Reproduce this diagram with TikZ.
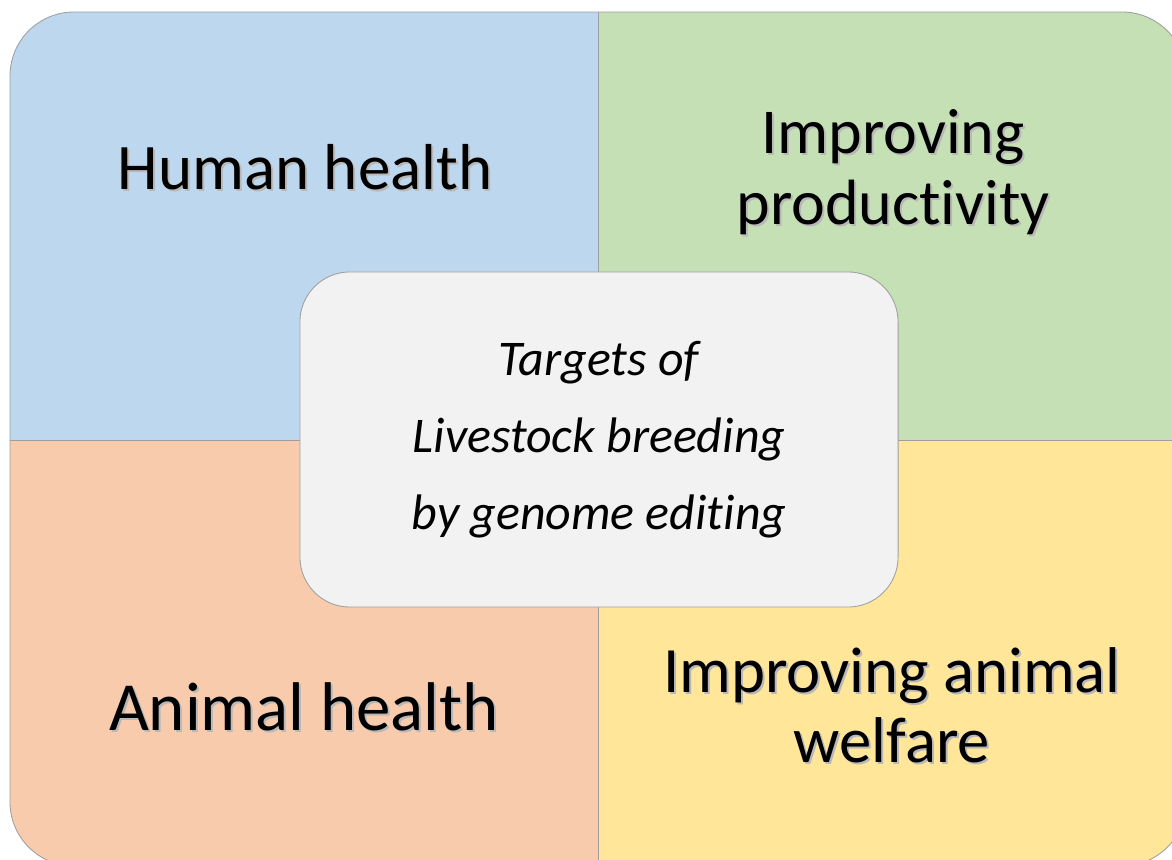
\documentclass[tikz,border=0pt]{standalone}
\usepackage{fontspec}
\setmainfont{Carlito}[Ligatures=NoCommon]

\definecolor{humanblue}{HTML}{BDD7EE}
\definecolor{prodgreen}{HTML}{C5E0B4}
\definecolor{animalpeach}{HTML}{F8CBAD}
\definecolor{welfareyellow}{HTML}{FFE699}
\definecolor{coregray}{HTML}{F2F2F2}

\tikzset{
  quadline/.style={draw=black!38, line width=0.6pt},
  lbl/.style={anchor=base, align=center, inner sep=0pt},
  lblshadow/.style={lbl, text=black!28},
  target/.style={draw=black!38, line width=0.6pt, fill=coregray, rounded corners=1.25cm,
    minimum width=14.95cm, minimum height=8.375cm, align=center, inner sep=0pt,
    font={\fontsize{35.5}{54.8}\selectfont\itshape}}
}

% label with a soft drop shadow: name, position (last baseline), font, text
\newcommand{\shadowlabel}[4]{%
  \node[lblshadow, font={#3}] (#1-sh) at ([shift={(2,2)}]#2) {#4};
  \node[lbl, font={#3}] (#1) at (#2) {#4};
}

\begin{document}
\begin{tikzpicture}[x=0.025cm, y=-0.025cm]
\useasboundingbox (0,0) rectangle (1172,860);
\clip (0,0) rectangle (1172,860);

% four quadrants inside one rounded frame
\begin{scope}
\clip[rounded corners=1.6cm] (10,12) rectangle (1186,866);
\fill[humanblue]     (10,12)   rectangle (598,440);
\fill[prodgreen]     (598,12)  rectangle (1186,440);
\fill[animalpeach]   (10,440)  rectangle (598,866);
\fill[welfareyellow] (598,440) rectangle (1186,866);
\end{scope}
\draw[quadline] (598,12) -- (598,866);
\draw[quadline] (10,440) -- (1186,440);
\draw[quadline, rounded corners=1.6cm] (10,12) rectangle (1186,866);

\node[target] (core) at (599,439.5) {Targets of\\Livestock breeding\\by genome editing};

\shadowlabel{human}{305,190}{\fontsize{46.2}{50}\selectfont}{Human health}
\shadowlabel{prod}{893,225}{\fontsize{45.5}{51.2}\selectfont}{Improving\\productivity}
\shadowlabel{animal}{304,730}{\fontsize{49}{54}\selectfont}{Animal health}
\shadowlabel{welfare}{892,762}{\fontsize{46}{49.1}\selectfont}{Improving animal\\welfare}

\end{tikzpicture}
\end{document}
